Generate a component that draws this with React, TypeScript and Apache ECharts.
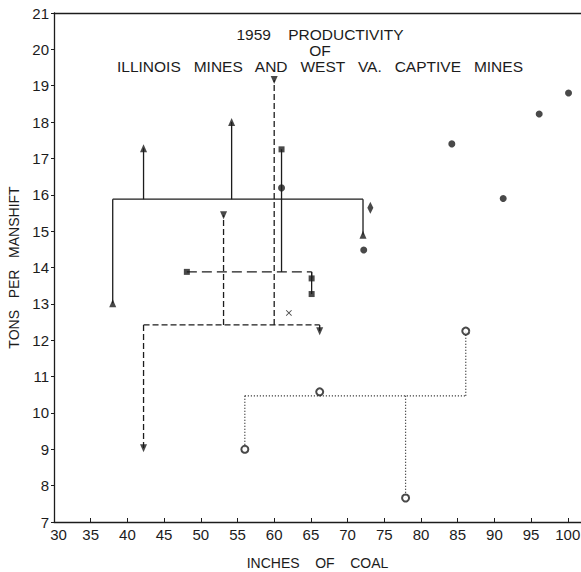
import React, { useEffect, useRef } from "react";
import * as echarts from "echarts";

// ---- data ----
const xTickValues = [30, 35, 40, 45, 50, 55, 60, 65, 70, 75, 80, 85, 90, 95, 100];

const triUpPoints = [[38.0, 13.02], [42.2, 17.28], [54.2, 18.0], [72.1, 14.9]];
const triUpLevel = 15.88;

const triDownPoints = [[42.2, 9.03], [53.1, 15.44], [60.0, 19.16], [66.2, 12.25]];
const triDownLevel = 12.42;

const squarePoints = [[48.1, 13.88], [61.0, 17.25], [65.1, 13.7], [65.1, 13.27]];
const squareLevel = 13.88;

const openCircleLinked = [[56.0, 9.0], [77.9, 7.66], [86.1, 12.25]];
const openCircleFree = [[66.2, 10.58]];
const openCircleLevel = 10.47;

const solidDots = [[61.0, 16.19], [72.2, 14.48], [84.2, 17.4], [91.2, 15.9], [96.1, 18.22], [100.1, 18.8]];
const diamonds = [[73.1, 15.64]];
const crosses = [[62.0, 12.75]];

const titleLines = ["1959    PRODUCTIVITY", "OF", "ILLINOIS   MINES   AND   WEST   VA.   CAPTIVE   MINES"];

const INK = "#1c1c1c";
const FONT = "Liberation Sans";

function connectorSeries(points: number[][], level: number, hType: any, vType: any, width = 1.3) {
  const xs = points.map((p) => p[0]);
  const out: any[] = [
    {
      type: "line",
      data: [[Math.min(...xs), level], [Math.max(...xs), level]],
      symbol: "none",
      silent: true,
      z: 2,
      lineStyle: { color: INK, width, type: hType },
    },
  ];
  points.forEach((p) =>
    out.push({
      type: "line",
      data: [[p[0], level], [p[0], p[1]]],
      symbol: "none",
      silent: true,
      z: 2,
      lineStyle: { color: INK, width, type: vType },
    })
  );
  return out;
}

const crossPath = "path://M0,1L1,0L5,4L9,0L10,1L6,5L10,9L9,10L5,6L1,10L0,9L4,5Z";

export default function App() {
  const ref = useRef<HTMLDivElement>(null);
  useEffect(() => {
    const chart = echarts.init(ref.current!, null, { renderer: "svg" });
    const option: any = {
      animation: false,
      backgroundColor: "#ffffff",
      grid: { left: 54, right: 0, top: 13, bottom: 50, containLabel: false, outerBoundsMode: "none" },
      xAxis: [
        {
          type: "value",
          min: 30,
          max: 101.8,
          position: "bottom",
          name: "INCHES    OF    COAL",
          nameLocation: "middle",
          nameGap: 34,
          nameTextStyle: { fontFamily: FONT, fontSize: 14, color: INK },
          axisLine: { show: true, lineStyle: { color: INK, width: 1.3 } },
          axisTick: { show: true, inside: true, length: 4, customValues: xTickValues, lineStyle: { color: INK } },
          axisLabel: {
            customValues: xTickValues,
            margin: 5,
            fontFamily: FONT,
            fontSize: 15,
            color: INK,
            formatter: (v: number) => (v === 30 ? "{first|30}" : String(v)),
            rich: { first: { padding: [0, 0, 0, 9], fontFamily: FONT, fontSize: 15, color: INK } },
          },
          splitLine: { show: false },
        },
        {
          type: "value",
          min: 30,
          max: 101.8,
          position: "top",
          axisLine: { show: true, lineStyle: { color: INK, width: 1.3 } },
          axisTick: { show: false },
          axisLabel: { show: false },
          splitLine: { show: false },
        },
      ],
      yAxis: {
        type: "value",
        min: 7,
        max: 21,
        interval: 1,
        name: "TONS   PER   MANSHIFT",
        nameLocation: "middle",
        nameGap: 32,
        nameRotate: 90,
        nameTextStyle: { fontFamily: FONT, fontSize: 14, color: INK },
        axisLine: { show: true, lineStyle: { color: INK, width: 1.3 } },
        axisTick: { show: true, inside: false, length: 3, lineStyle: { color: INK } },
        axisLabel: { margin: 5, fontFamily: FONT, fontSize: 15, color: INK },
        splitLine: { show: false },
      },
      graphic: titleLines.map((t, i) => ({
        type: "text",
        x: 320,
        y: 34 + i * 16,
        style: {
          text: t,
          fill: INK,
          font: `15.5px "${FONT}"`,
          textAlign: "center",
          textVerticalAlign: "middle",
        },
      })),
      series: [
        ...connectorSeries(triUpPoints, triUpLevel, "solid", "solid"),
        ...connectorSeries(triDownPoints, triDownLevel, [6, 3], [6, 3]),
        ...connectorSeries(squarePoints, squareLevel, [10, 5], "solid"),
        ...connectorSeries(openCircleLinked, openCircleLevel, [1, 2], [1, 2], 1.2),
        {
          type: "scatter",
          data: triUpPoints,
          symbol: "triangle",
          symbolSize: [7, 8],
          itemStyle: { color: INK },
          z: 5,
        },
        {
          type: "scatter",
          data: triDownPoints,
          symbol: "triangle",
          symbolRotate: 180,
          symbolSize: [7, 8],
          itemStyle: { color: INK },
          z: 5,
        },
        {
          type: "scatter",
          data: squarePoints,
          symbol: "rect",
          symbolSize: 6,
          itemStyle: { color: INK },
          z: 5,
        },
        {
          type: "scatter",
          data: [...openCircleLinked, ...openCircleFree],
          symbol: "circle",
          symbolSize: 7,
          itemStyle: { color: "#ffffff", borderColor: INK, borderWidth: 2 },
          z: 5,
        },
        {
          type: "scatter",
          data: solidDots,
          symbol: "circle",
          symbolSize: 7,
          itemStyle: { color: INK },
          z: 5,
        },
        {
          type: "scatter",
          data: diamonds,
          symbol: "diamond",
          symbolSize: [6, 12],
          itemStyle: { color: INK },
          z: 5,
        },
        {
          type: "scatter",
          data: crosses,
          symbol: crossPath,
          symbolSize: 6,
          itemStyle: { color: INK },
          z: 5,
        },
      ],
    };
    chart.setOption(option);
    return () => chart.dispose();
  }, []);
  return <div ref={ref} style={{ position: "absolute", left: 0, top: 0, width: 581, height: 572 }} />;
}
